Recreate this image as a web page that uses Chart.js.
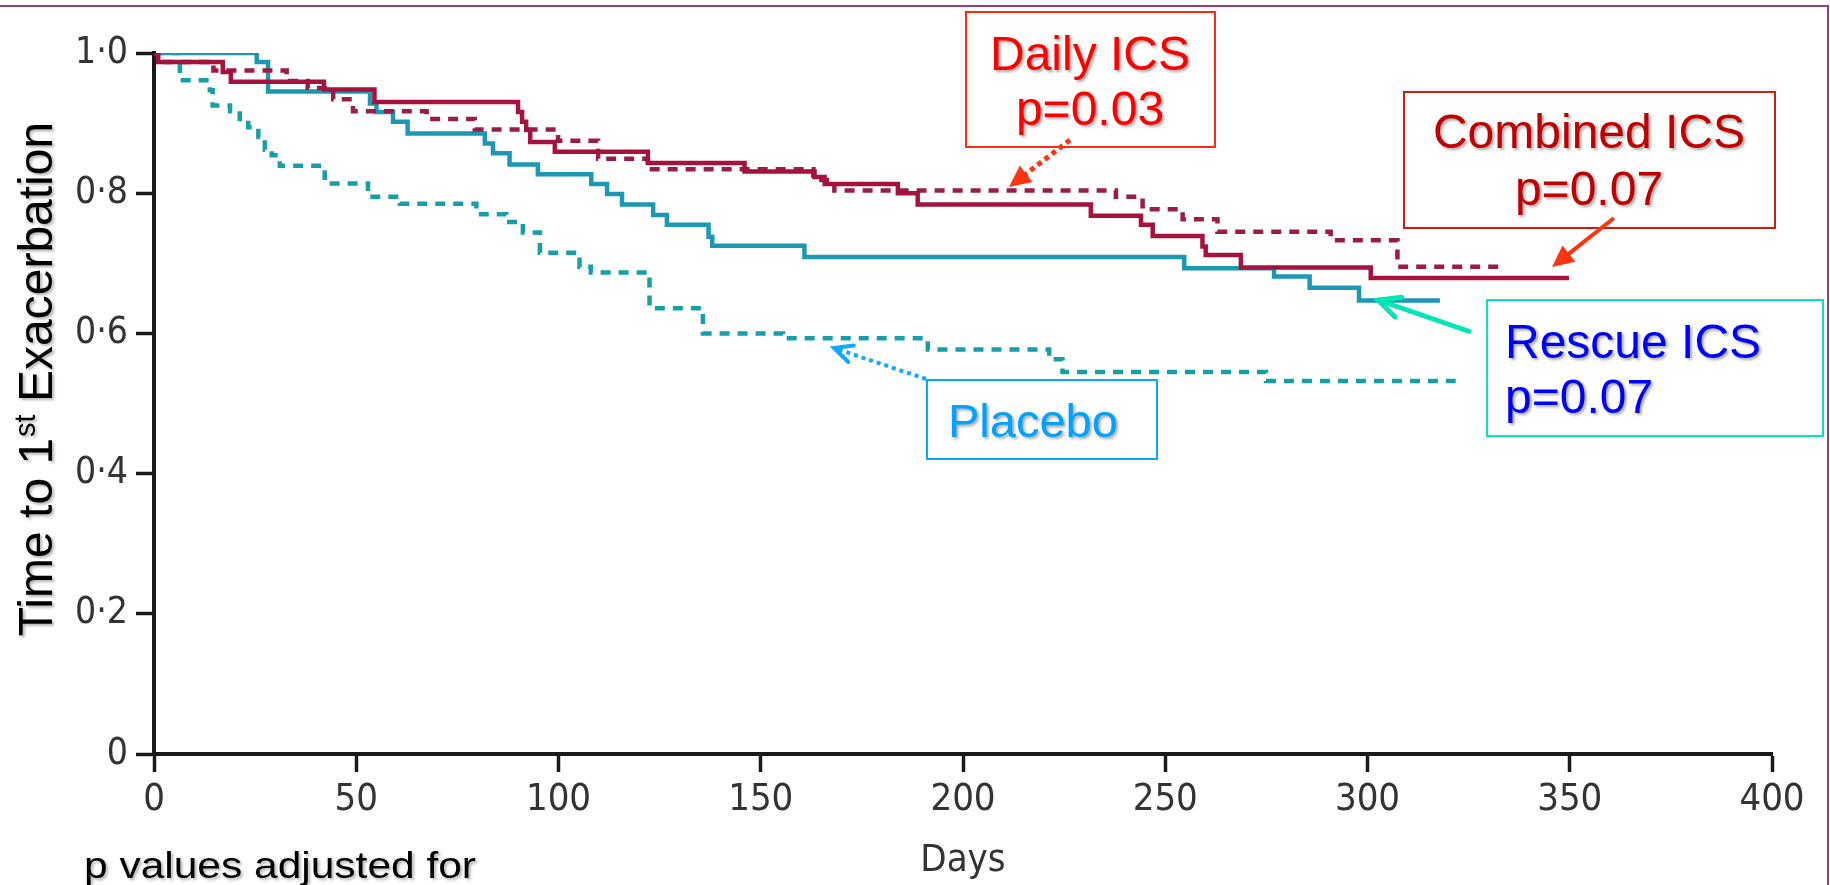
<!DOCTYPE html>
<html>
<head>
<meta charset="utf-8">
<script src="https://cdn.jsdelivr.net/npm/chart.js@4.4.1/dist/chart.umd.min.js"></script>
<style>
html,body{margin:0;padding:0;background:#fff;overflow:hidden}
canvas{display:block}
</style>
</head>
<body>
<canvas id="c" width="1830" height="885"></canvas>
<script>
// ---- data ----
const xTickValues = [0, 50, 100, 150, 200, 250, 300, 350, 400];
const xTickLabels = ['0', '50', '100', '150', '200', '250', '300', '350', '400'];
const yTickValues = [0, 0.2, 0.4, 0.6, 0.8, 1.0];
const yTickLabels = ['0', '0\u00b72', '0\u00b74', '0\u00b76', '0\u00b78', '1\u00b70'];

const seriesNames = ['Combined ICS', 'Daily ICS', 'Rescue ICS', 'Placebo'];

const combinedDays = [0, 1, 17, 19, 42, 54.5, 90, 91, 92, 93, 99.1, 122.1, 146, 163.3, 165.8, 183.9, 188.8, 231.6, 244, 246.9, 259.2, 260, 268.7, 300.8, 349.8];
const combinedSurv = [1.0, 0.987, 0.973, 0.959, 0.948, 0.930, 0.916, 0.902, 0.890, 0.873, 0.859, 0.843, 0.831, 0.823, 0.813, 0.800, 0.784, 0.768, 0.755, 0.739, 0.724, 0.712, 0.694, 0.679, 0.679];

const dailyDays = [0, 1, 14.7, 32.8, 38, 44.3, 49.2, 67.4, 79.3, 99.9, 109.8, 122.1, 163, 168.2, 237.8, 244.4, 254.3, 262.9, 290.9, 307.4, 333.2];
const dailySurv = [1.0, 0.987, 0.975, 0.960, 0.950, 0.934, 0.917, 0.906, 0.891, 0.875, 0.849, 0.834, 0.819, 0.804, 0.795, 0.777, 0.763, 0.745, 0.733, 0.695, 0.695];

const rescueDays = [0, 25.4, 28.2, 53.4, 55, 59.1, 62.7, 81.8, 83.8, 87.9, 94.9, 108.1, 112, 115.7, 123.4, 126.8, 137.1, 138, 160.8, 254.7, 276.9, 285.7, 297.9, 317.9];
const rescueSurv = [1.0, 0.987, 0.945, 0.928, 0.916, 0.902, 0.885, 0.871, 0.857, 0.841, 0.827, 0.813, 0.799, 0.784, 0.769, 0.755, 0.738, 0.725, 0.709, 0.693, 0.681, 0.665, 0.647, 0.647];

const placeboDays = [0, 6.4, 13.8, 14.5, 18.8, 21.2, 23.3, 25.8, 27.4, 29.1, 31.1, 42.2, 43, 52.9, 60.8, 79.7, 87.1, 91.2, 95.4, 105.2, 108, 122.5, 135.7, 155.5, 191.3, 221.3, 224.6, 274.9, 321.8];
const placeboSurv = [1.0, 0.961, 0.947, 0.925, 0.917, 0.906, 0.894, 0.880, 0.862, 0.854, 0.839, 0.822, 0.814, 0.795, 0.785, 0.770, 0.759, 0.744, 0.715, 0.695, 0.687, 0.636, 0.600, 0.593, 0.577, 0.563, 0.545, 0.532, 0.532];

const yTitleMain = ['Time to 1', 'st', ' Exacerbation'];
const xTitle = 'Days';
const footnote = 'p values adjusted for';

// ---- styling ----
const TICK_FONT = "'Liberation Sans Narrow', 'DejaVu Sans Condensed', 'Liberation Sans', sans-serif";
const ANN_FONT = "'Liberation Sans', Arial, sans-serif";
const MAROON_SOLID = '#A5123D';
const MAROON_DASH = '#9B1B49';
const TEAL_SOLID = '#1D98B3';
const TEAL_DASH = '#179FA7';

function pts(xs, ys) { return xs.map((x, i) => ({ x: x, y: ys[i] })); }

const annot = {
  id: 'annot',
  afterDraw(chart) {
    const ctx = chart.ctx;
    ctx.save();

    // slide frame lines
    ctx.strokeStyle = '#9C3F6E';
    ctx.lineWidth = 2;
    ctx.beginPath();
    ctx.moveTo(0, 6); ctx.lineTo(1828, 6); ctx.lineTo(1828, 885);
    ctx.stroke();

    function shadowOn(a) {
      ctx.shadowColor = 'rgba(0,0,0,' + (a || 0.35) + ')';
      ctx.shadowOffsetX = 2; ctx.shadowOffsetY = 2; ctx.shadowBlur = 3;
    }
    function shadowOff() {
      ctx.shadowColor = 'rgba(0,0,0,0)'; ctx.shadowOffsetX = 0; ctx.shadowOffsetY = 0; ctx.shadowBlur = 0;
    }
    function text(t, x, y, align, size, color) {
      ctx.font = size + 'px ' + ANN_FONT;
      ctx.textAlign = align; ctx.textBaseline = 'alphabetic';
      ctx.fillStyle = color;
      shadowOn();
      ctx.fillText(t, x, y);
      shadowOff();
    }
    function box(x1, y1, x2, y2, color) {
      ctx.strokeStyle = color; ctx.lineWidth = 2; ctx.setLineDash([]);
      ctx.strokeRect(x1, y1, x2 - x1, y2 - y1);
    }
    function arrow(x1, y1, x2, y2, color, w, dash, head, hl) {
      const a = Math.atan2(y2 - y1, x2 - x1);
      ctx.strokeStyle = color; ctx.fillStyle = color; ctx.lineWidth = w;
      ctx.setLineDash(dash); ctx.lineCap = 'butt';
      const ex = head === 'fill' ? x2 - Math.cos(a) * hl * 0.8 : x2;
      const ey = head === 'fill' ? y2 - Math.sin(a) * hl * 0.8 : y2;
      ctx.beginPath(); ctx.moveTo(x1, y1); ctx.lineTo(ex, ey); ctx.stroke();
      ctx.setLineDash([]);
      const s = 0.45;
      const p1 = [x2 - hl * Math.cos(a - s), y2 - hl * Math.sin(a - s)];
      const p2 = [x2 - hl * Math.cos(a + s), y2 - hl * Math.sin(a + s)];
      if (head === 'fill') {
        ctx.beginPath(); ctx.moveTo(x2, y2); ctx.lineTo(p1[0], p1[1]); ctx.lineTo(p2[0], p2[1]); ctx.closePath(); ctx.fill();
      } else {
        ctx.lineCap = 'round';
        ctx.beginPath(); ctx.moveTo(p1[0], p1[1]); ctx.lineTo(x2, y2); ctx.lineTo(p2[0], p2[1]); ctx.stroke();
      }
    }

    // Daily ICS
    box(966, 12, 1215, 147, '#FF2A14');
    text('Daily ICS', 1090, 70, 'center', 48, '#FF0000');
    text('p=0.03', 1090, 125, 'center', 48, '#FF0000');
    arrow(1070, 140, 1009, 187, '#FF3512', 5, [5, 4], 'fill', 24);

    // Combined ICS
    box(1404, 92, 1775, 228, '#C8200C');
    text('Combined ICS', 1589, 148, 'center', 48, '#C00000');
    text('p=0.07', 1589, 205, 'center', 48, '#C00000');
    arrow(1614, 218, 1552, 267, '#FF3512', 4, [], 'fill', 24);

    // Rescue ICS
    box(1487, 300, 1823, 436, '#00E6C2');
    text('Rescue ICS', 1505, 358, 'left', 48, '#0000FF');
    text('p=0.07', 1505, 413, 'left', 48, '#0000FF');
    arrow(1471, 332, 1378, 300, '#00E6B8', 5, [], 'open', 24);

    // Placebo
    box(927, 380, 1157, 459, '#00AAFF');
    text('Placebo', 948, 437, 'left', 47, '#00A2FF');
    arrow(926, 379, 834, 348, '#12A8FF', 4, [4, 4], 'open', 20);

    // y-axis title with superscript
    ctx.save();
    ctx.translate(52, 379);
    ctx.rotate(-Math.PI / 2);
    ctx.textBaseline = 'alphabetic'; ctx.textAlign = 'left';
    ctx.fillStyle = '#000';
    const big = '48px ' + ANN_FONT, small = '29px ' + ANN_FONT;
    ctx.font = big; const w1 = ctx.measureText(yTitleMain[0]).width;
    ctx.font = small; const w2 = ctx.measureText(yTitleMain[1]).width;
    ctx.font = big; const w3 = ctx.measureText(yTitleMain[2]).width;
    let sx = -(w1 + w2 + w3) / 2;
    shadowOn(0.3);
    ctx.font = big; ctx.fillText(yTitleMain[0], sx, 0); sx += w1;
    ctx.font = small; ctx.fillText(yTitleMain[1], sx + 1, -17); sx += w2;
    ctx.font = big; ctx.fillText(yTitleMain[2], sx, 0);
    shadowOff();
    ctx.restore();

    // footnote (slightly stretched as in the slide)
    ctx.save();
    ctx.font = '36px ' + ANN_FONT;
    const fw = ctx.measureText(footnote).width;
    const sc = 392 / fw;
    ctx.translate(84, 878);
    ctx.scale(sc, 1);
    ctx.fillStyle = '#000'; ctx.textAlign = 'left'; ctx.textBaseline = 'alphabetic';
    shadowOn(0.3);
    ctx.fillText(footnote, 0, 0);
    shadowOff();
    ctx.restore();

    ctx.restore();
  }
};

const chart = new Chart(document.getElementById('c').getContext('2d'), {
  type: 'line',
  data: {
    datasets: [
      { label: seriesNames[0], data: pts(combinedDays, combinedSurv), borderColor: MAROON_SOLID, borderWidth: 4.5, stepped: 'before', fill: false, pointRadius: 0 },
      { label: seriesNames[1], data: pts(dailyDays, dailySurv), borderColor: MAROON_DASH, borderWidth: 4.5, borderDash: [10, 8], stepped: 'before', fill: false, pointRadius: 0 },
      { label: seriesNames[2], data: pts(rescueDays, rescueSurv), borderColor: TEAL_SOLID, borderWidth: 4.5, stepped: 'before', fill: false, pointRadius: 0 },
      { label: seriesNames[3], data: pts(placeboDays, placeboSurv), borderColor: TEAL_DASH, borderWidth: 4.5, borderDash: [10, 8], stepped: 'before', fill: false, pointRadius: 0 }
    ]
  },
  options: {
    responsive: false,
    animation: false,
    devicePixelRatio: 1,
    layout: { padding: { left: 0, top: 53, right: 58, bottom: 0 } },
    plugins: { legend: { display: false }, tooltip: { enabled: false }, title: { display: false } },
    scales: {
      x: {
        type: 'linear', min: 0, max: 400,
        afterBuildTicks: (s) => { s.ticks = xTickValues.map(v => ({ value: v })); },
        afterFit: (s) => { s.height = 131; },
        ticks: { callback: (v, i) => xTickLabels[i], font: { family: TICK_FONT, size: 38 }, color: '#333', padding: 5, maxRotation: 0, autoSkip: false },
        grid: { drawOnChartArea: false, tickLength: 18, tickWidth: 3.5, tickColor: '#1a1a1a' },
        border: { color: '#1a1a1a', width: 4 },
        title: { display: true, text: xTitle, font: { family: TICK_FONT, size: 38 }, color: '#333', padding: { top: 0, bottom: 1 } }
      },
      y: {
        type: 'linear', min: 0, max: 1,
        afterBuildTicks: (s) => { s.ticks = yTickValues.map(v => ({ value: v })); },
        afterFit: (s) => { s.width = 154; },
        ticks: { callback: (v, i) => yTickLabels[i], font: { family: TICK_FONT, size: 37 }, color: '#333', padding: 8, autoSkip: false },
        grid: { drawOnChartArea: false, tickLength: 18, tickWidth: 3.5, tickColor: '#1a1a1a' },
        border: { color: '#1a1a1a', width: 4 }
      }
    }
  },
  plugins: [annot]
});
</script>
</body>
</html>
